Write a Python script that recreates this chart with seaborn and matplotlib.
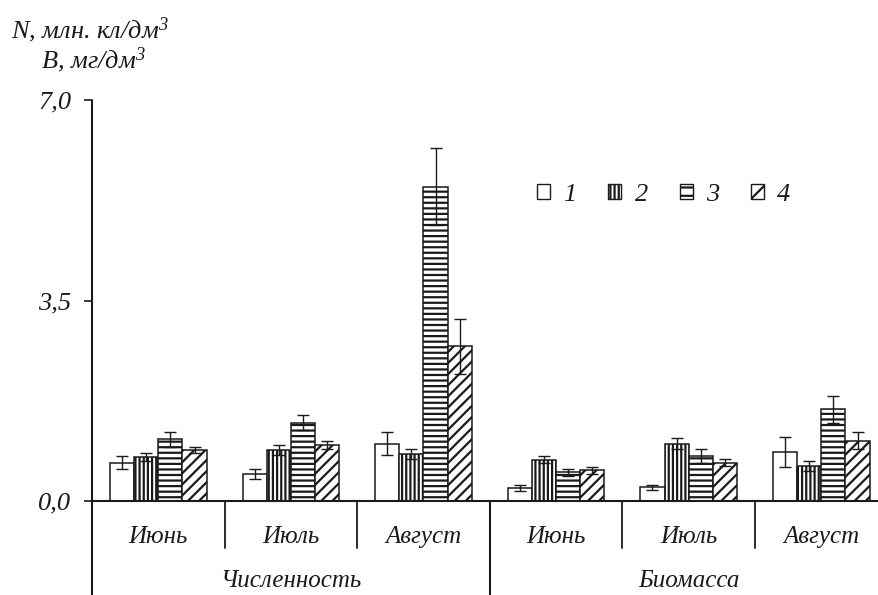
import matplotlib
matplotlib.use("Agg")
import matplotlib.pyplot as plt
from matplotlib.patches import Patch
import numpy as np
import pandas as pd
import seaborn as sns

# ---- data -------------------------------------------------------------
months = ["Июнь", "Июль", "Август"]
groups = ["Численность", "Биомасса"]
series = ["1", "2", "3", "4"]

# Численность (N, млн. кл/дм3)
n_1 = [0.67, 0.47, 1.00]
n_2 = [0.77, 0.89, 0.82]
n_3 = [1.08, 1.37, 5.49]
n_4 = [0.89, 0.98, 2.70]
n_1_err = [0.12, 0.08, 0.20]
n_2_err = [0.07, 0.09, 0.09]
n_3_err = [0.13, 0.13, 0.67]
n_4_err = [0.06, 0.07, 0.48]

# Биомасса (B, мг/дм3)
b_1 = [0.23, 0.24, 0.86]
b_2 = [0.72, 1.00, 0.61]
b_3 = [0.50, 0.79, 1.60]
b_4 = [0.54, 0.67, 1.05]
b_1_err = [0.05, 0.04, 0.26]
b_2_err = [0.06, 0.10, 0.08]
b_3_err = [0.06, 0.12, 0.24]
b_4_err = [0.06, 0.06, 0.15]

y_ticks = [0.0, 3.5, 7.0]
y_tick_labels = ["0,0", "3,5", "7,0"]

# ---- long table -------------------------------------------------------
vals = {"Численность": [n_1, n_2, n_3, n_4], "Биомасса": [b_1, b_2, b_3, b_4]}
errs = {"Численность": [n_1_err, n_2_err, n_3_err, n_4_err],
        "Биомасса": [b_1_err, b_2_err, b_3_err, b_4_err]}
slots = [f"{g}|{m}" for g in groups for m in months]
rows = []
for g in groups:
    for si, s in enumerate(series):
        for mi, m in enumerate(months):
            rows.append({"slot": f"{g}|{m}", "series": s,
                         "value": vals[g][si][mi], "err": errs[g][si][mi]})
df = pd.DataFrame(rows)

# ---- style ------------------------------------------------------------
sns.set_style("white")
ink = "#1a1a1a"
plt.rcParams["font.family"] = ["Liberation Serif", "DejaVu Serif"]
plt.rcParams["font.style"] = "italic"
plt.rcParams["mathtext.fontset"] = "custom"
plt.rcParams["mathtext.rm"] = "Liberation Serif:italic"
plt.rcParams["mathtext.it"] = "Liberation Serif:italic"
plt.rcParams["hatch.linewidth"] = 1.6
FS = 19
FS_CAT = 18

fig = plt.figure(figsize=(8.79, 5.95), dpi=100)
ax = fig.add_axes([92 / 879, 94 / 595, 795.6 / 879, 401 / 595])

sns.barplot(data=df, x="slot", y="value", hue="series", order=slots,
            hue_order=series, palette=["white"] * 4, edgecolor=ink,
            linewidth=1.1, width=0.73, gap=0, errorbar=None, legend=False,
            saturation=1, ax=ax)

hatches = ["", "||||", "---", "///"]
for cont, h, s in zip(ax.containers, hatches, series):
    sub = df[df["series"] == s].set_index("slot").loc[slots]
    xs, ys = [], []
    for bar in cont:
        bar.set_hatch(h)
        bar.set_facecolor("white")
        bar.set_edgecolor(ink)
        xs.append(bar.get_x() + bar.get_width() / 2)
        ys.append(bar.get_height())
    ax.errorbar(xs, ys, yerr=sub["err"].values, fmt="none", ecolor=ink,
                elinewidth=1.0, capsize=4.5, capthick=1.0, zorder=5)

ax.set_xlim(-0.5, 5.5)
ax.set_ylim(0, 7.0)
for sp in ax.spines.values():
    sp.set_visible(False)
ax.set_xticks([])
ax.set_xlabel("")
ax.set_ylabel("")
ax.set_yticks(y_ticks)
ax.set_yticklabels(y_tick_labels, fontsize=FS, color=ink)
ax.tick_params(axis="y", direction="out", length=6, width=1.2, pad=9,
               color=ink, left=True)

# axis frame and category dividers
trans_xd = ax.get_xaxis_transform()
ax.plot([-0.5, -0.5], [1.0, -0.235], transform=trans_xd, color=ink,
        lw=1.5, clip_on=False, zorder=6)
ax.plot([-0.5, 5.5], [0, 0], transform=trans_xd, color=ink, lw=1.5,
        clip_on=False, zorder=6)
for xb in [0.5, 1.5, 3.5, 4.5]:
    ax.plot([xb, xb], [0, -0.118], transform=trans_xd, color=ink, lw=1.3,
            clip_on=False)
ax.plot([2.5, 2.5], [0, -0.235], transform=trans_xd, color=ink, lw=1.5,
        clip_on=False)

# month and parameter labels
for i, slot in enumerate(slots):
    ax.text(i, -0.09, slot.split("|")[1], transform=trans_xd, ha="center",
            va="center", fontsize=FS_CAT, color=ink)
ax.text(1, -0.2, groups[0], transform=trans_xd, ha="center", va="center",
        fontsize=FS_CAT, color=ink)
ax.text(4, -0.2, groups[1], transform=trans_xd, ha="center", va="center",
        fontsize=FS_CAT, color=ink)

# axis title
fig.text(11 / 879, 1 - 38 / 595, r"N, млн. кл/дм$^{3}$", fontsize=FS,
         color=ink, ha="left", va="baseline")
fig.text(41 / 879, 1 - 68 / 595, r"B, мг/дм$^{3}$", fontsize=FS,
         color=ink, ha="left", va="baseline")

# legend
handles = [Patch(facecolor="white", edgecolor=ink, hatch=h, linewidth=1.0)
           for h in ["", "||||", "--", "//"]]
fig.legend(handles, series, loc="center left",
           bbox_to_anchor=(537 / 879, 1 - 195 / 595), ncol=4, frameon=False,
           fontsize=FS, handlelength=0.5, handleheight=0.5,
           handletextpad=0.5, columnspacing=1.2, borderpad=0,
           borderaxespad=0, labelcolor=ink)

fig.savefig("out.png", dpi=100)
